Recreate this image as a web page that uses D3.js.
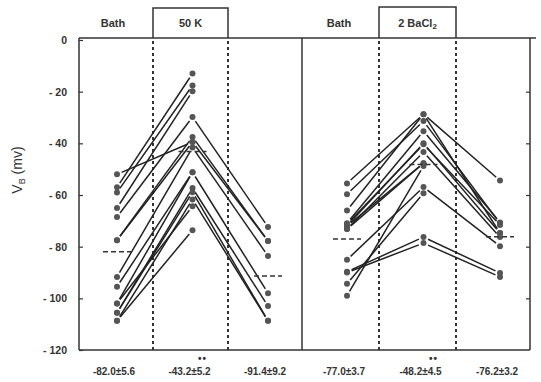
<!DOCTYPE html>
<html>
  <head>
    <meta charset="utf-8">
    <title>VB bath / 50 K / 2 BaCl2</title>
    <style>
      body { margin: 0; background: #fff; }
      svg text {
        font-family: 'Liberation Sans', Arial, sans-serif;
        font-weight: bold;
        fill: #333;
      }
      .tick line { stroke: #333; stroke-width: 1.2; }
      path.domain { stroke: none; }
    </style>
  </head>
  <body>
    <svg width="541" height="382"></svg>
    <script src="https://d3js.org/d3.v7.min.js"></script>
    <script>
      // stages in each panel
      const stages = ['bath', 'treat', 'wash'];
      const yTicks = [0, -20, -40, -60, -80, -100, -120];

      // left panel: Bath -> 50 K -> Bath (one entry per cell)
      const kBath  = [-52, -57, -59, -65, -68.5, -77.5, -77.5, -91.7, -95.5, -102, -105.6, -105.6, -108.7, -102, -108.7];
      const kHigh  = [-39.5, -13, -17.6, -19.8, -29.8, -37.5, -39.5, -41.6, -51.2, -51.2, -57.3, -58.9, -61.7, -64.4, -73.6];
      const kWash  = [null, null, null, null, -72.4, -77.8, -77.8, -83.6, -98, null, -103, -108.7, -108.7, null, null];
      const kMeans = [-82.0, -43.2, -91.4];
      const kLabels = ['-82.0±5.6', '-43.2±5.2', '-91.4±9.2'];

      // right panel: Bath -> 2 BaCl2 -> Bath
      const baBath  = [-55.5, -59.7, -66, -70.9, -71.3, -72, -73.2, -85.1, -94.4, -99, -89.7, -90, -72, -73.2];
      const baHigh  = [-28.7, -31.4, -28.7, -35.3, -40.4, -40, -43.4, -56.9, -59.3, -48.8, -76.3, -78.6, -47.7, -47.7];
      const baWash  = [-74.7, -71, -54.4, -70.6, -71.6, -74.7, -76.3, -79.8, null, null, -90.2, -91.7, null, null];
      const baMeans = [-77.0, -48.2, -76.2];
      const baLabels = ['-77.0±3.7', '-48.2±4.5', '-76.2±3.2'];

      const svg = d3.select('svg');
      const yTop = 38, yBot = 350, xLeft = 79, xMid = 302, xRight = 530;

      const y = d3.scaleLinear().domain([0, -120]).range([40, 350]);

      // frame
      const ink = '#333';
      svg.append('line').attr('x1', xLeft).attr('x2', xRight + 6).attr('y1', yTop).attr('y2', yTop)
        .attr('stroke', ink).attr('stroke-width', 1.5);
      svg.append('line').attr('x1', xLeft).attr('x2', xRight).attr('y1', yBot).attr('y2', yBot)
        .attr('stroke', ink).attr('stroke-width', 1.5);
      [xLeft, xMid, xRight].forEach(x => {
        svg.append('line').attr('x1', x).attr('x2', x).attr('y1', yTop).attr('y2', yBot)
          .attr('stroke', ink).attr('stroke-width', 1.5);
      });

      // y axis, ticks inside
      svg.append('g')
        .attr('transform', `translate(${xLeft},0)`)
        .call(d3.axisLeft(y).tickValues(yTicks).tickSizeInner(-4).tickSizeOuter(0).tickPadding(12)
          .tickFormat(d => d === 0 ? '0' : '- ' + Math.abs(d)))
        .selectAll('text').attr('font-size', 10.5);
      svg.append('g')
        .attr('transform', `translate(${xRight},0)`)
        .call(d3.axisRight(y).tickValues(yTicks.slice(1, 6)).tickSizeInner(-4).tickSizeOuter(0).tickFormat(''));

      svg.append('text')
        .attr('transform', 'translate(22,170) rotate(-90)')
        .attr('text-anchor', 'middle')
        .attr('font-size', 14)
        .style('font-weight', 'normal')
        .html('V<tspan font-size="9" dy="3">B</tspan><tspan dy="-3"> (mv)</tspan>');

      function drawPanel(cfg) {
        const x = d3.scalePoint().domain(stages).range(cfg.range);
        const g = svg.append('g');

        // treatment box and bath label
        g.append('path')
          .attr('d', `M${cfg.box[0]},${yTop} V${cfg.boxTop} H${cfg.box[1]} V${yTop}`)
          .attr('fill', 'none').attr('stroke', ink).attr('stroke-width', 1.5);
        g.append('text').attr('x', cfg.bathX).attr('y', 27).attr('text-anchor', 'middle')
          .attr('font-size', 11).text('Bath');
        g.append('text').attr('x', (cfg.box[0] + cfg.box[1]) / 2).attr('y', 27).attr('text-anchor', 'middle')
          .attr('font-size', 11).html(cfg.title);

        // dotted separators
        cfg.box.forEach(bx => {
          g.append('line').attr('x1', bx).attr('x2', bx).attr('y1', yTop + 3).attr('y2', yBot)
            .attr('stroke', ink).attr('stroke-width', 2).attr('stroke-dasharray', '3,3');
        });

        // cells
        const cells = cfg.bath.map((b, i) => [b, cfg.high[i], cfg.wash[i]]);
        const segs = [];
        cells.forEach(c => {
          for (let k = 0; k < 2; k++) {
            if (c[k] != null && c[k + 1] != null) {
              segs.push([[x(stages[k]), y(c[k])], [x(stages[k + 1]), y(c[k + 1])]]);
            }
          }
        });
        g.selectAll('line.seg').data(segs).enter().append('line')
          .attr('class', 'seg')
          .each(function (d) {
            const dx = d[1][0] - d[0][0], dy = d[1][1] - d[0][1];
            const len = Math.hypot(dx, dy), s = 5 / len;
            d3.select(this)
              .attr('x1', d[0][0] + dx * s).attr('y1', d[0][1] + dy * s)
              .attr('x2', d[1][0] - dx * s).attr('y2', d[1][1] - dy * s);
          })
          .attr('stroke', '#222').attr('stroke-width', 1.5);

        const pts = [];
        cells.forEach(c => c.forEach((v, k) => { if (v != null) pts.push([stages[k], v]); }));
        g.selectAll('circle').data(pts).enter().append('circle')
          .attr('cx', d => x(d[0])).attr('cy', d => y(d[1])).attr('r', 3)
          .attr('fill', '#555');

        // mean dashes
        g.selectAll('line.mean').data(cfg.means).enter().append('line')
          .attr('class', 'mean')
          .attr('x1', (d, i) => x(stages[i]) - 14).attr('x2', (d, i) => x(stages[i]) + 14)
          .attr('y1', d => y(d)).attr('y2', d => y(d))
          .attr('stroke', ink).attr('stroke-width', 1.5).attr('stroke-dasharray', '5,3');

        // labels under axis
        g.selectAll('text.lab').data(cfg.labels).enter().append('text')
          .attr('class', 'lab')
          .attr('x', (d, i) => x(stages[i]) - 3).attr('y', 375)
          .attr('text-anchor', 'middle').attr('font-size', 10)
          .text(d => d);
        g.append('text').attr('x', x('treat') + 10).attr('y', 362).attr('text-anchor', 'middle')
          .attr('font-size', 10).attr('letter-spacing', 1).text('••');
      }

      drawPanel({
        range: [117, 268], box: [153, 228], boxTop: 8, bathX: 113,
        title: '50 K', bath: kBath, high: kHigh, wash: kWash, means: kMeans, labels: kLabels
      });
      drawPanel({
        range: [347, 500], box: [379, 456], boxTop: 7, bathX: 339,
        title: '2 BaCl<tspan font-size="8" dy="2">2</tspan>', bath: baBath, high: baHigh, wash: baWash,
        means: baMeans, labels: baLabels
      });
    </script>
  </body>
</html>
